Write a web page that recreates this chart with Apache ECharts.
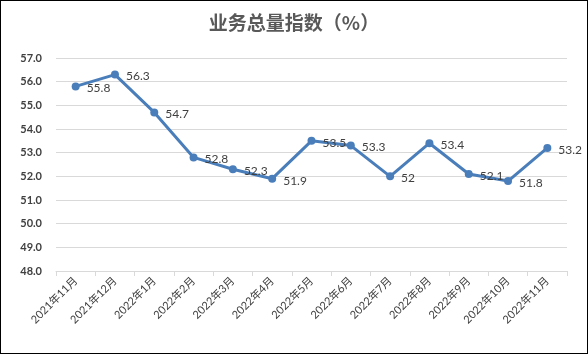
<!DOCTYPE html>
<html>
<head>
<meta charset="utf-8">
<script src="https://cdn.jsdelivr.net/npm/echarts@6/dist/echarts.min.js"></script>
<style>
  html, body { margin: 0; padding: 0; background: #fff; }
  #chart { width: 588px; height: 354px; box-sizing: border-box; border: 1px solid #000; }
</style>
</head>
<body>
<div id="chart"></div>
<script>
// data
var months = ['2021年11月', '2021年12月', '2022年1月', '2022年2月', '2022年3月', '2022年4月',
  '2022年5月', '2022年6月', '2022年7月', '2022年8月', '2022年9月', '2022年10月', '2022年11月'];
var indexValues = [55.8, 56.3, 54.7, 52.8, 52.3, 51.9, 53.5, 53.3, 52, 53.4, 52.1, 51.8, 53.2];
var yMin = 48, yMax = 57, yStep = 1;

var fontNum = 'Lato, "Noto Sans CJK SC", sans-serif';
var chart = echarts.init(document.getElementById('chart'));

chart.setOption({
  animation: false,
  title: {
    text: '业务总量指数（%）',
    left: 'center',
    top: 7,
    textStyle: {
      fontFamily: '"Noto Sans CJK SC", sans-serif',
      fontSize: 19,
      fontWeight: 'bold',
      color: '#595959'
    }
  },
  grid: { left: 55, right: 20, top: 57, bottom: 82 },
  xAxis: {
    type: 'category',
    data: months,
    boundaryGap: true,
    axisLine: { lineStyle: { color: '#d9d9d9', width: 1 } },
    axisTick: { show: true, length: 5, lineStyle: { color: '#d9d9d9' } },
    axisLabel: {
      rotate: 45,
      interval: 0,
      margin: 8,
      color: '#404040',
      fontSize: 11,
      fontFamily: fontNum
    }
  },
  yAxis: {
    type: 'value',
    min: yMin,
    max: yMax,
    interval: yStep,
    axisLine: { show: false },
    axisTick: { show: false },
    splitLine: { lineStyle: { color: '#d9d9d9', width: 1 } },
    axisLabel: {
      color: '#404040',
      fontSize: 11,
      fontWeight: 'bold',
      fontFamily: fontNum,
      margin: 14,
      formatter: function (v) { return v.toFixed(1); }
    }
  },
  series: [{
    type: 'line',
    data: indexValues,
    symbol: 'circle',
    symbolSize: 8,
    lineStyle: { color: '#4a7ebb', width: 3 },
    itemStyle: { color: '#4a7ebb' },
    label: {
      show: true,
      position: 'right',
      distance: 7,
      offset: [0, 2],
      color: '#404040',
      fontSize: 12,
      fontFamily: fontNum
    }
  }]
});
</script>
</body>
</html>
